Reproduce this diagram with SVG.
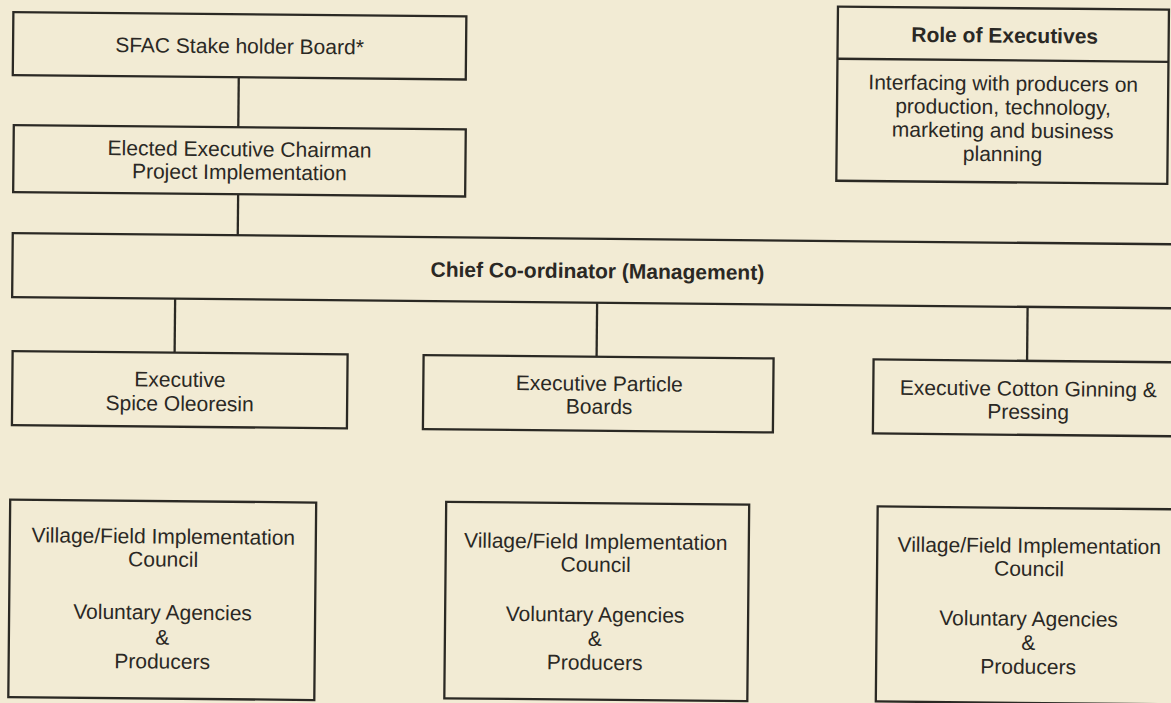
<svg xmlns="http://www.w3.org/2000/svg" width="1171" height="703" viewBox="0 0 1171 703">
  <style>
    .box { fill: none; stroke: #2b2924; stroke-width: 2.3; }
    .ln { stroke: #2b2924; stroke-width: 2.3; fill: none; }
    .t { font-family: "Liberation Sans", Arial, Helvetica, sans-serif; font-size: 21px; fill: #2a2824; text-anchor: middle; }
    .b { font-weight: bold; }
  </style>
  <rect x="0" y="0" width="1171" height="703" fill="#f2ebd4"/>
  <g transform="rotate(0.55)">
    <g id="connectors">
      <line class="ln" x1="239.5" y1="75" x2="239.5" y2="125"/>
      <line class="ln" x1="240" y1="192" x2="240" y2="233"/>
      <line class="ln" x1="178" y1="297" x2="178" y2="351"/>
      <line class="ln" x1="600" y1="297" x2="600" y2="351"/>
      <line class="ln" x1="1030.5" y1="297" x2="1030.5" y2="351"/>
    </g>
    <g id="sfac-board">
      <rect class="box" x="13.5" y="12" width="453" height="63"/>
      <text class="t" x="240" y="51">SFAC Stake holder Board*</text>
    </g>
    <g id="elected-chairman">
      <rect class="box" x="15" y="125" width="452" height="67"/>
      <text class="t" x="241" y="154">Elected Executive Chairman</text>
      <text class="t" x="241" y="177">Project Implementation</text>
    </g>
    <g id="chief-coordinator">
      <rect class="box" x="15" y="233" width="1175" height="64"/>
      <text class="t b" x="600" y="272.5">Chief Co-ordinator (Management)</text>
    </g>
    <g id="role-of-executives">
      <rect class="box" x="838" y="-1.5" width="331" height="174.2"/>
      <line class="ln" x1="838" y1="50.7" x2="1169" y2="50.7"/>
      <text class="t b" x="1005" y="33">Role of Executives</text>
      <text class="t" x="1004" y="81">Interfacing with producers on</text>
      <text class="t" x="1004" y="104.5">production, technology,</text>
      <text class="t" x="1004" y="128">marketing and business</text>
      <text class="t" x="1004" y="151.5">planning</text>
    </g>
    <g id="exec-spice">
      <rect class="box" x="16" y="351" width="335" height="74"/>
      <text class="t" x="183.5" y="385">Executive</text>
      <text class="t" x="183.5" y="409">Spice Oleoresin</text>
    </g>
    <g id="exec-particle">
      <rect class="box" x="427" y="351" width="350" height="74"/>
      <text class="t" x="603" y="385">Executive Particle</text>
      <text class="t" x="603" y="408">Boards</text>
    </g>
    <g id="exec-cotton">
      <rect class="box" x="877" y="351" width="320" height="74"/>
      <text class="t" x="1032" y="386">Executive Cotton Ginning &amp;</text>
      <text class="t" x="1032" y="409">Pressing</text>
    </g>
    <g id="village-1">
      <rect class="box" x="15" y="499.5" width="306" height="197.5"/>
      <text class="t" x="168.5" y="542">Village/Field Implementation</text>
      <text class="t" x="168.5" y="565">Council</text>
      <text class="t" x="168.5" y="618">Voluntary Agencies</text>
      <text class="t" x="168.5" y="643">&amp;</text>
      <text class="t" x="168.5" y="667">Producers</text>
    </g>
    <g id="village-2">
      <rect class="box" x="451" y="497.5" width="303" height="196.5"/>
      <text class="t" x="601" y="543">Village/Field Implementation</text>
      <text class="t" x="601" y="566">Council</text>
      <text class="t" x="601" y="616">Voluntary Agencies</text>
      <text class="t" x="601" y="640">&amp;</text>
      <text class="t" x="601" y="664">Producers</text>
    </g>
    <g id="village-3">
      <rect class="box" x="882.5" y="498" width="310" height="195"/>
      <text class="t" x="1034.5" y="543">Village/Field Implementation</text>
      <text class="t" x="1034.5" y="566">Council</text>
      <text class="t" x="1034.5" y="616">Voluntary Agencies</text>
      <text class="t" x="1034.5" y="640">&amp;</text>
      <text class="t" x="1034.5" y="664">Producers</text>
    </g>
  </g>
</svg>
